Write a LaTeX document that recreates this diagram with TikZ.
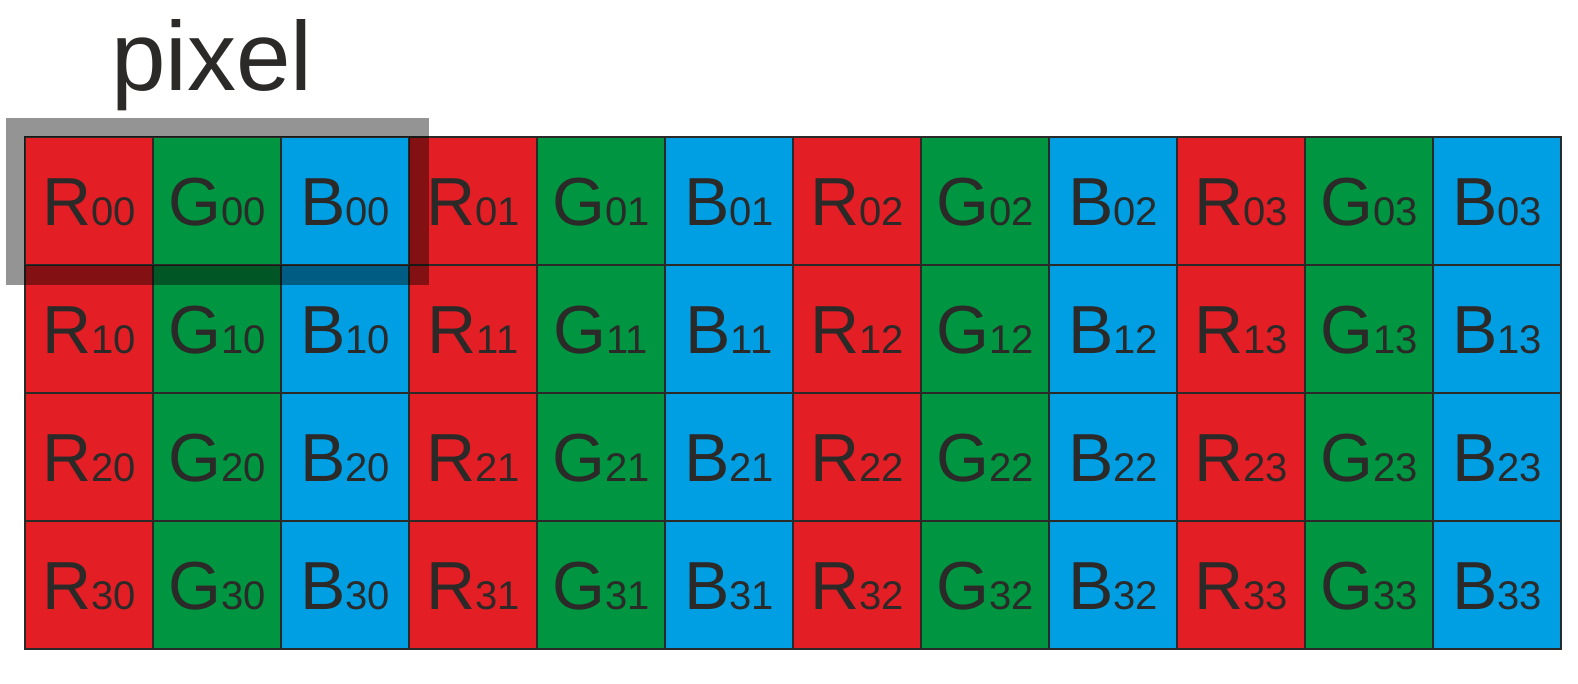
\documentclass[tikz,border=0pt]{standalone}
\usepackage{fontspec}
\setmainfont{Liberation Sans}
\definecolor{cR}{HTML}{E31E24}
\definecolor{cG}{HTML}{009540}
\definecolor{cB}{HTML}{009FE3}
\definecolor{ink}{HTML}{2B2A29}
\begin{document}
\begin{tikzpicture}[x=1pt,y=-1pt,
  cell/.style={draw=ink, line width=2pt, minimum width=128pt, minimum height=128pt, inner sep=0pt, outer sep=0pt,
    text=ink, text height=49pt, text depth=0pt, font=\fontsize{68}{70}\selectfont},
  frame/.style={draw=black, draw opacity=0.42, line width=19.5pt}]
\useasboundingbox (0,0) rectangle (1578,683);
\node[anchor=base west, text=ink, font=\fontsize{98}{100}\selectfont, inner sep=0pt] (title) at (111,90) {pixel};
\foreach \r in {0,...,3}{
  \foreach \c in {0,...,11}{
    \pgfmathtruncatemacro{\k}{mod(\c,3)}
    \pgfmathtruncatemacro{\p}{div(\c,3)}
    \ifcase\k \def\L{R}\def\C{cR}\or \def\L{G}\def\C{cG}\or \def\L{B}\def\C{cB}\fi
    \node[cell, fill=\C] (cell-\r-\c) at ({25+64+128*\c},{137+64+128*\r})
      {\L{\fontsize{40}{40}\selectfont\r\p}};
  }
}
\draw[frame] ([xshift=-9.75pt,yshift=9.75pt]cell-0-0.north west) rectangle ([xshift=9.75pt,yshift=-9.75pt]cell-0-2.south east);
\end{tikzpicture}
\end{document}
